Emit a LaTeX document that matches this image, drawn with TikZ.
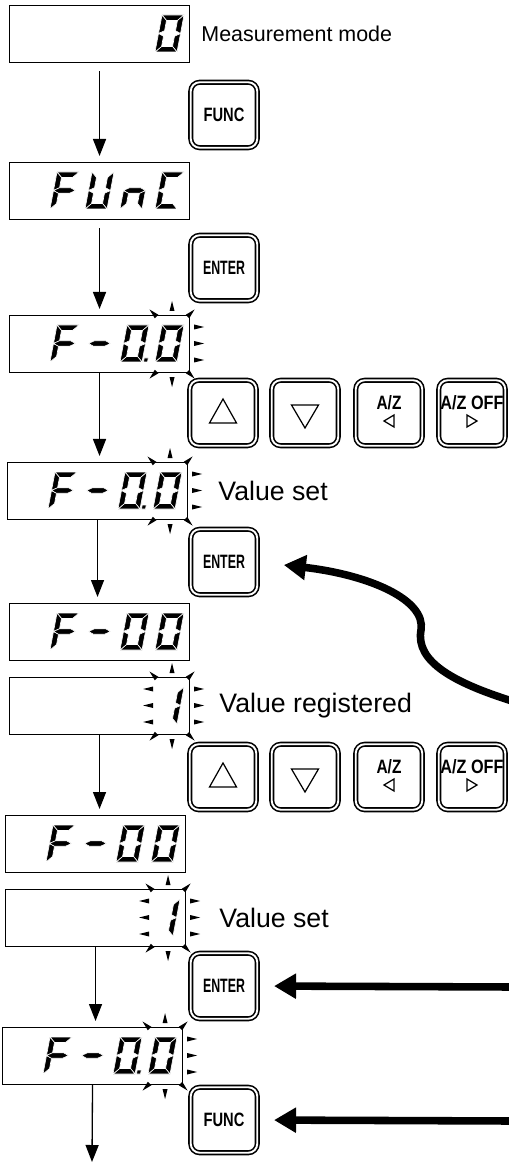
\documentclass[tikz,border=0pt]{standalone}
\usepackage{fontspec}
\setmainfont{Liberation Sans}
\usetikzlibrary{arrows.meta, positioning, calc}
\newcommand{\keyfont}{\fontsize{11}{12}\selectfont\bfseries}
\tikzset{
  disp/.style={rectangle, draw=black, line width=0.6pt, anchor=north west,
    minimum width=36mm, minimum height=11.4mm, inner sep=0pt},
  key/.style={rectangle, draw=black, line width=0.9pt, double=white,
    double distance=1.1pt, rounded corners=1.8mm, minimum width=13.3mm,
    minimum height=13.1mm, inner sep=0pt, font=\keyfont},
  seg/.style={fill=black, draw=white, line width=0.35pt},
  note/.style={font=\fontsize{15.2}{18}\selectfont, inner sep=0pt},
  flow/.style={-{Triangle[length=3.4mm,width=2.6mm]}, line width=0.75pt, shorten >=1.2mm},
  push/.style={-{Triangle[length=4.4mm,width=4.8mm]}, line width=4.3pt},
  glyph/.style={line width=0.7pt, line join=miter}
}
% seven segment pieces (local units, origin bottom left)
\newcommand{\lcda}{\fill[seg] (0,37) -- (22,37) -- (16.5,31.5) -- (5.5,31.5) -- cycle;}
\newcommand{\lcdb}{\fill[seg] (22,37) -- (22,18.5) -- (16.5,21.25) -- (16.5,31.5) -- cycle;}
\newcommand{\lcdc}{\fill[seg] (22,18.5) -- (22,0) -- (16.5,5.5) -- (16.5,15.75) -- cycle;}
\newcommand{\lcdd}{\fill[seg] (0,0) -- (22,0) -- (16.5,5.5) -- (5.5,5.5) -- cycle;}
\newcommand{\lcde}{\fill[seg] (0,18.5) -- (0,0) -- (5.5,5.5) -- (5.5,15.75) -- cycle;}
\newcommand{\lcdf}{\fill[seg] (0,37) -- (0,18.5) -- (5.5,21.25) -- (5.5,31.5) -- cycle;}
\newcommand{\lcdg}{\fill[seg] (0,18.5) -- (5.5,21.25) -- (16.5,21.25) -- (22,18.5) -- (16.5,15.75) -- (5.5,15.75) -- cycle;}
\newcommand{\lcdp}{\fill[seg] (23.5,0) rectangle (27.5,4);}
% digit #2 (0..3) of display #1, segments #3
\newcommand{\segdigit}[3]{%
  \begin{scope}[shift={(#1.north west)}, shift={({41+35*#2},47)}, x=0.2mm, y=0.2mm, xslant=0.19]
    \foreach \s in {#3} {\csname lcd\s\endcsname}
  \end{scope}}
\newcommand{\fcode}[2]{%
  \segdigit{#1}{0}{a,e,f,g}\segdigit{#1}{1}{g}%
  \segdigit{#1}{2}{a,b,c,d,e,f#2}\segdigit{#1}{3}{a,b,c,d,e,f}}
% blinking rays round the last digits of display #1 (#2=1: left side too)
\newcommand{\blinkmarks}[2]{%
  \foreach \bx/\by/\ba in {-18/-9/90, -37/-2/135, 1/-2/45}
    {\fill[shift={(#1.north east)}, shift={(\bx,\by)}, rotate=\ba] (5,0) -- (-5,2.5) -- (-5,-2.5) -- cycle;}
  \foreach \bx/\by/\ba in {-18/9/270, -37/2/225, 1/2/315}
    {\fill[shift={(#1.south east)}, shift={(\bx,\by)}, rotate=\ba] (5,0) -- (-5,2.5) -- (-5,-2.5) -- cycle;}
  \foreach \by in {12,28.5,45}
    {\fill[shift={(#1.north east)}, shift={(9,\by)}] (5,0) -- (-5,2.5) -- (-5,-2.5) -- cycle;}
  \ifnum#2=1
    \foreach \by in {12,28.5,45}
      {\fill[shift={(#1.north east)}, shift={(-42,\by)}, rotate=180] (5,0) -- (-5,2.5) -- (-5,-2.5) -- cycle;}
  \fi}
\begin{document}
\begin{tikzpicture}[x=0.2mm, y=-0.2mm]
  \useasboundingbox (0,0) rectangle (509,1164);
  % ── displays ──────────────────────────────────────────────
  \node[disp] (d1) at (9,5) {};
  \node[disp] (d2) at (9,162) {};
  \node[disp] (d3) at (9,315) {};
  \node[disp] (d4) at (7,462) {};
  \node[disp] (d5) at (9,603) {};
  \node[disp] (d6) at (9,677) {};
  \node[disp] (d7) at (5,815) {};
  \node[disp] (d8) at (5,889) {};
  \node[disp] (d9) at (2,1027) {};
  \segdigit{d1}{3}{a,b,c,d,e,f}
  \segdigit{d2}{0}{a,e,f,g}\segdigit{d2}{1}{b,c,d,e,f}
  \segdigit{d2}{2}{c,e,g}\segdigit{d2}{3}{a,d,e,f}
  \fcode{d3}{,p}\blinkmarks{d3}{0}
  \fcode{d4}{,p}\blinkmarks{d4}{0}
  \fcode{d5}{}
  \segdigit{d6}{3}{b,c}\blinkmarks{d6}{1}
  \fcode{d7}{}
  \segdigit{d8}{3}{b,c}\blinkmarks{d8}{1}
  \fcode{d9}{,p}\blinkmarks{d9}{0}
  % ── notes ─────────────────────────────────────────────────
  \node[note, font=\fontsize{12.2}{15}\selectfont, right=2.2mm of d1] (n1) {Measurement mode};
  \node[note, right=6mm of d4] (n4) {Value set};
  \node[note, right=5.8mm of d6] (n6) {Value registered};
  \node[note, right=6.6mm of d8] (n8) {Value set};
  % ── keys ──────────────────────────────────────────────────
  \node[key] (k1) at (224,115) {\scalebox{0.76}[1]{FUNC}};
  \node[key] (k2) at (224,268) {\scalebox{0.64}[1]{ENTER}};
  \node[key] (k3) at (224,562) {\scalebox{0.64}[1]{ENTER}};
  \node[key] (k4) at (224,986) {\scalebox{0.64}[1]{ENTER}};
  \node[key] (k5) at (224,1120) {\scalebox{0.76}[1]{FUNC}};
  \foreach \r/\ky in {1/413, 2/777} {
    \node[key] (up\r) at (223,\ky) {};
    \node[key] (dn\r) at (305,\ky) {};
    \node[key] (az\r) at (389,\ky) {};
    \node[key] (off\r) at (472,\ky) {};
    \draw[glyph] ([shift={(-13.5,10)}]up\r.center) -- ([shift={(13.5,10)}]up\r.center)
      -- ([shift={(0,-14)}]up\r.center) -- cycle;
    \draw[glyph] ([shift={(-13.5,-8)}]dn\r.center) -- ([shift={(13.5,-8)}]dn\r.center)
      -- ([shift={(0,15)}]dn\r.center) -- cycle;
    \node[font=\keyfont, inner sep=0pt] (az\r t) at ([shift={(0,-10)}]az\r.center) {\scalebox{0.8}[1]{A/Z}};
    \draw[glyph] ([shift={(-5,8)}]az\r.center) -- ([shift={(5,2)}]az\r.center)
      -- ([shift={(5,14)}]az\r.center) -- cycle;
    \node[font=\keyfont, inner sep=0pt] (off\r t) at ([shift={(0,-10)}]off\r.center) {\scalebox{0.84}[1]{A/Z OFF}};
    \draw[glyph] ([shift={(5,8)}]off\r.center) -- ([shift={(-5,2)}]off\r.center)
      -- ([shift={(-5,14)}]off\r.center) -- cycle;
  }
  % ── flow ──────────────────────────────────────────────────
  \draw[flow, shorten <=1.6mm] (d1.south) -- (d1.south |- d2.north);
  \draw[flow, shorten <=1.6mm] (d2.south) -- (d2.south |- d3.north);
  \draw[flow] (d3.south) -- (d3.south |- d4.north);
  \draw[flow] (d4.south) -- (d4.south |- d5.north);
  \draw[flow] (d6.south) -- (d6.south |- d7.north);
  \draw[flow] (d8.south) -- (d8.south |- d9.north);
  \coordinate (end) at (92,1162);
  \draw[flow, shorten >=0pt] (d9.south) -- (end);
  % ── key presses ───────────────────────────────────────────
  \coordinate (src1) at (512,701);
  \coordinate (src2) at (512,987);
  \coordinate (src3) at (512,1121);
  \draw[push, shorten >=5.2mm] (src1) .. controls (455,683) and (415,662) .. (421,630)
    .. controls (426,600) and (370,575) .. (k3.east);
  \draw[push, shorten >=3.2mm] (src2) -- (k4.east);
  \draw[push, shorten >=3.2mm] (src3) -- (k5.east);
\end{tikzpicture}
\end{document}
